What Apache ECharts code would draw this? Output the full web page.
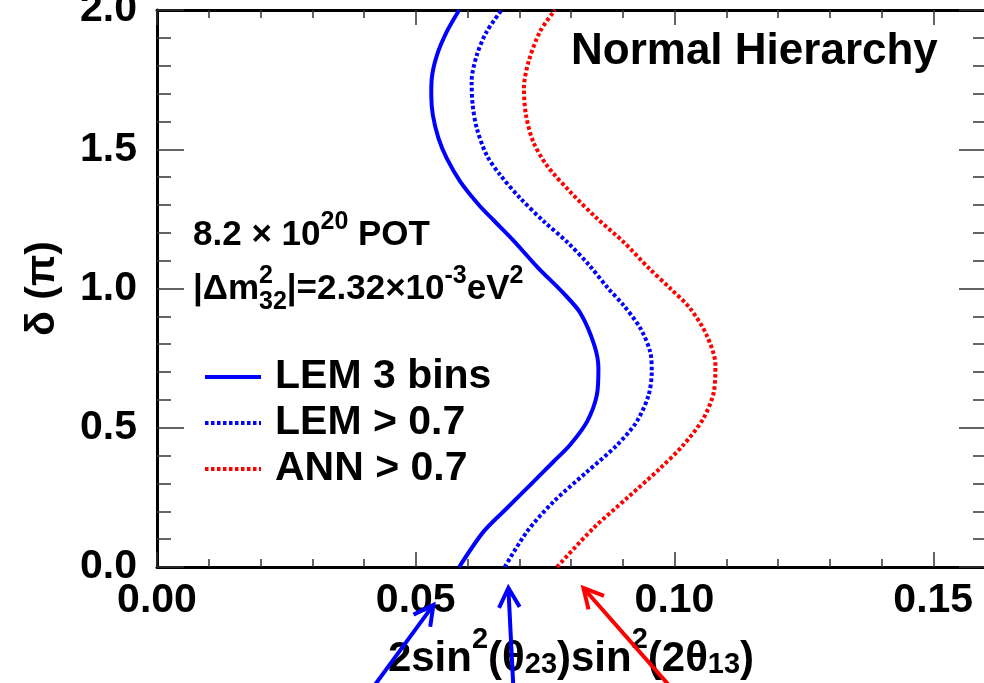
<!DOCTYPE html>
<html><head><meta charset="utf-8">
<script src="https://cdn.jsdelivr.net/npm/echarts@6/dist/echarts.min.js"></script>
<style>html,body{margin:0;padding:0;background:#fff}#c{width:984px;height:683px}</style>
</head><body><div id="c"></div><script>
// ---- data (x = 2sin^2(theta23)sin^2(2theta13), y = delta/pi) ----
const lem3Y = [0, 0.127, 0.211, 0.294, 0.378, 0.438, 0.522, 0.618, 0.713, 0.797, 0.912, 0.984, 1.077, 1.174, 1.246, 1.300, 1.384, 1.467, 1.539, 1.623, 1.695, 1.755, 1.838, 1.922, 2.0];
const lem3X = [0.0584, 0.0631, 0.0676, 0.0721, 0.0766, 0.0798, 0.0831, 0.0850, 0.0853, 0.0845, 0.0818, 0.0785, 0.0735, 0.0688, 0.0650, 0.0622, 0.0586, 0.0560, 0.0544, 0.0533, 0.0530, 0.0531, 0.0541, 0.0560, 0.0584];
const lem07Y = [0, 0.127, 0.234, 0.342, 0.438, 0.522, 0.618, 0.701, 0.773, 0.857, 0.941, 1.0, 1.084, 1.168, 1.240, 1.324, 1.408, 1.479, 1.575, 1.659, 1.743, 1.838, 1.922, 2.0];
const lem07X = [0.0672, 0.0715, 0.0766, 0.0831, 0.0889, 0.0927, 0.0950, 0.0956, 0.0953, 0.0934, 0.0901, 0.0872, 0.0835, 0.0792, 0.0748, 0.0702, 0.0663, 0.0637, 0.0618, 0.0610, 0.0608, 0.0618, 0.0637, 0.0666];
const ann07Y = [0, 0.139, 0.247, 0.354, 0.438, 0.534, 0.629, 0.725, 0.833, 0.929, 1.0, 1.072, 1.168, 1.252, 1.348, 1.443, 1.527, 1.623, 1.719, 1.814, 1.922, 2.0];
const ann07X = [0.0773, 0.0843, 0.0908, 0.0972, 0.1017, 0.1056, 0.1076, 0.1079, 0.1062, 0.1030, 0.0992, 0.0951, 0.0901, 0.0850, 0.0798, 0.0753, 0.0727, 0.0713, 0.0709, 0.0718, 0.0740, 0.0769];
const seriesNames = ['LEM 3 bins', 'LEM > 0.7', 'ANN > 0.7'];
const xTickLabels = ['0.00', '0.05', '0.10', '0.15'];
const yTickLabels = ['0.0', '0.5', '1.0', '1.5', '2.0'];
// arrow annotations: x value each arrow points at (below the axis)
const arrowTipX = [0.0534, 0.0679, 0.0824];

const FONT = "'Liberation Sans', Arial, Helvetica, sans-serif";
const pairs = (xs, ys) => xs.map((x, i) => [x, ys[i]]);

const chart = echarts.init(document.getElementById('c'), null, {renderer: 'canvas'});

const tickStyle = {color: '#333', width: 1.5};
const axisLineStyle = {color: '#000', width: 3};
function xAxisCfg(pos, showLabel) {
  return {
    type: 'value', min: 0, max: 0.16, interval: 0.05, position: pos,
    axisLine: {show: true, onZero: false, lineStyle: axisLineStyle},
    axisTick: {show: true, inside: true, length: 15, lineStyle: tickStyle},
    minorTick: {show: true, splitNumber: 5, length: 8, lineStyle: tickStyle},
    splitLine: {show: false}, minorSplitLine: {show: false},
    axisLabel: {
      show: showLabel, showMaxLabel: false, margin: 13,
      formatter: v => { const i = Math.round(v / 0.05); return xTickLabels[i] || ''; },
      fontSize: 41, fontWeight: 'bold', fontFamily: FONT, color: '#000'
    }
  };
}
function yAxisCfg(pos, showLabel, major, minor) {
  return {
    type: 'value', min: 0, max: 2, interval: 0.5, position: pos,
    axisLine: {show: true, onZero: false, lineStyle: axisLineStyle},
    axisTick: {show: true, inside: true, length: major, lineStyle: tickStyle},
    minorTick: {show: true, splitNumber: 5, length: minor, lineStyle: tickStyle},
    splitLine: {show: false}, minorSplitLine: {show: false},
    axisLabel: {
      show: showLabel, margin: 20,
      formatter: v => { const i = Math.round(v / 0.5); return yTickLabels[i] || ''; },
      fontSize: 41, fontWeight: 'bold', fontFamily: FONT, color: '#000'
    }
  };
}

const xb = xAxisCfg('bottom', true);
xb.name = '2sin{sup|2}(θ{sub|23})sin{sup|2}(2θ{sub|13})';
xb.nameLocation = 'middle';
xb.nameGap = 40;
xb.nameTextStyle = {
  fontSize: 42, fontWeight: 'bold', fontFamily: FONT, color: '#000',
  lineHeight: 42, verticalAlign: 'bottom', padding: [0, 0, 18, 0],
  rich: {
    sup: {fontSize: 29, fontWeight: 'bold', fontFamily: FONT, color: '#000', lineHeight: 29, verticalAlign: 'bottom', padding: [0, 0, 26, 0]},
    sub: {fontSize: 29, fontWeight: 'bold', fontFamily: FONT, color: '#000', lineHeight: 29, verticalAlign: 'bottom', padding: [0, 0, 1, 0]}
  }
};
const yl = yAxisCfg('left', true, 27, 14);
yl.name = 'δ (π)';
yl.nameLocation = 'middle';
yl.nameRotate = 90;
yl.nameGap = 94;
yl.nameTextStyle = {fontSize: 41, fontWeight: 'bold', fontFamily: FONT, color: '#000'};

const baseRich = {
  b: {fontSize: 35, fontWeight: 'bold', fontFamily: FONT, color: '#000', lineHeight: 35, verticalAlign: 'bottom', padding: [0, 0, 8, 0]},
  s: {fontSize: 25, fontWeight: 'bold', fontFamily: FONT, color: '#000', lineHeight: 25, verticalAlign: 'bottom', padding: [0, 0, 26, 0]},
  u: {fontSize: 25, fontWeight: 'bold', fontFamily: FONT, color: '#000', lineHeight: 25, verticalAlign: 'bottom', padding: [0, 0, 0, -14]}
};

const option = {
  animation: false,
  backgroundColor: '#fff',
  grid: {left: 157, right: -1, top: 10, bottom: 116, outerBoundsMode: 'none', containLabel: false},
  xAxis: [xb, xAxisCfg('top', false)],
  yAxis: [yl, yAxisCfg('right', false, 26, 12)],
  legend: {
    orient: 'vertical', left: 198, top: 350, itemWidth: 56, itemHeight: 20, itemGap: 2,
    data: seriesNames,
    itemStyle: {opacity: 0},
    lineStyle: {width: 4},
    textStyle: {fontSize: 41, fontWeight: 'bold', fontFamily: FONT, color: '#000', lineHeight: 44, padding: [0, 0, 0, 9]}
  },
  title: [
    {text: 'Normal Hierarchy', left: 566, top: 25,
     textStyle: {fontSize: 44, fontWeight: 'bold', fontFamily: FONT, color: '#000'}},
    {text: '{b|8.2 × 10}{s|20}{b| POT}', left: 188, top: 221, textStyle: {rich: baseRich}},
    {text: '{b||Δm}{s|2}{u|32}{b||=2.32×10}{s|-3}{b|eV}{s|2}', left: 188, top: 275, textStyle: {rich: baseRich}}
  ],
  series: [
    {name: seriesNames[0], type: 'line', xAxisIndex: 0, yAxisIndex: 0, data: pairs(lem3X, lem3Y),
     smooth: 0.3, symbol: 'none', lineStyle: {color: '#0000ff', width: 4, type: 'solid'}, itemStyle: {color: '#0000ff'}},
    {name: seriesNames[1], type: 'line', xAxisIndex: 0, yAxisIndex: 0, data: pairs(lem07X, lem07Y),
     smooth: 0.3, symbol: 'none', lineStyle: {color: '#0000ff', width: 4, type: [3.5, 2.5]}, itemStyle: {color: '#0000ff'}},
    {name: seriesNames[2], type: 'line', xAxisIndex: 0, yAxisIndex: 0, data: pairs(ann07X, ann07Y),
     smooth: 0.3, symbol: 'none', lineStyle: {color: '#ff0000', width: 4, type: [3.5, 2.5]}, itemStyle: {color: '#ff0000'}}
  ]
};
chart.setOption(option);

// arrows below the x axis, placed through the axis scale
const arrowColors = ['#0000ff', '#0000ff', '#ff0000'];
const arrowDirs = [[-60, 82], [5, 100], [88, 100]];   // tip -> tail direction
const arrowTipDrop = [38, 21, 21];                     // px below the axis line
const y0 = chart.convertToPixel({yAxisIndex: 0}, 0);
const elements = [];
arrowTipX.forEach((xv, i) => {
  const tx = chart.convertToPixel({xAxisIndex: 0}, xv);
  const ty = y0 + arrowTipDrop[i];
  const [dx, dy] = arrowDirs[i];
  const L = Math.hypot(dx, dy);
  const ux = dx / L, uy = dy / L;
  const tailX = tx + ux * 140, tailY = ty + uy * 140;
  const a = 28 * Math.PI / 180, arm = 22;
  const rot = (x, y, t) => [x * Math.cos(t) - y * Math.sin(t), x * Math.sin(t) + y * Math.cos(t)];
  const r1 = rot(ux, uy, a), r2 = rot(ux, uy, -a);
  const style = {stroke: arrowColors[i], lineWidth: 4, lineCap: 'butt', lineJoin: 'miter'};
  elements.push({type: 'line', shape: {x1: tx + ux * 2, y1: ty + uy * 2, x2: tailX, y2: tailY}, style, z: 100});
  elements.push({type: 'polyline', shape: {points: [[tx + r1[0] * arm, ty + r1[1] * arm], [tx, ty], [tx + r2[0] * arm, ty + r2[1] * arm]]}, style, z: 100});
});
chart.setOption({graphic: {elements}});
</script></body></html>
